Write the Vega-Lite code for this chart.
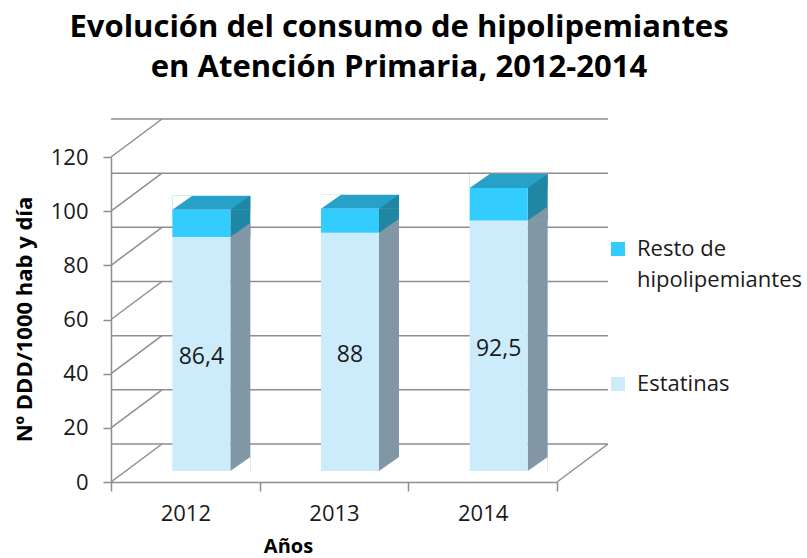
{
  "$schema": "https://vega.github.io/schema/vega-lite/v6.json",
  "width": 446,
  "height": 325,
  "autosize": {"type": "none"},
  "padding": {"left": 111, "top": 157, "right": 250, "bottom": 76},
  "background": "white",
  "config": {
    "view": {"stroke": null},
    "font": "Open Sans",
    "style": {"guide-label": {"lineHeight": 31}}
  },
  "title": {
    "text": ["Evolución del consumo de hipolipemiantes", "en Atención Primaria, 2012-2014"],
    "fontSize": 31,
    "fontWeight": "bold",
    "font": "Open Sans",
    "color": "#000000",
    "anchor": "middle",
    "frame": "group",
    "dx": 65,
    "dy": -30,
    "lineHeight": 40
  },
  "layer": [
    {
      "data": {"values": [{"g": 0}, {"g": 20}, {"g": 40}, {"g": 60}, {"g": 80}, {"g": 100}, {"g": 120}]},
      "mark": {"type": "rule", "color": "#8E8E8E", "strokeWidth": 1.5, "xOffset": 51, "x2Offset": 51, "yOffset": -38},
      "encoding": {
        "y": {
          "field": "g",
          "type": "quantitative",
          "scale": {"domain": [0, 120], "nice": false},
          "axis": {
            "values": [0, 20, 40, 60, 80, 100, 120],
            "title": "Nº DDD/1000 hab y día",
            "titleFontSize": 22,
            "titleFontWeight": "bold",
            "titleColor": "#000000",
            "titleX": -87,
            "titleY": 162,
            "titleBaseline": "middle",
            "labelFontSize": 22,
            "labelColor": "#1a1a1a",
            "labelPadding": 15,
            "tickSize": 8,
            "tickColor": "#8E8E8E",
            "tickWidth": 1.5,
            "domainColor": "#8E8E8E",
            "domainWidth": 1.5,
            "grid": false
          }
        }
      }
    },
    {
      "data": {"values": [{"g": 0}, {"g": 20}, {"g": 40}, {"g": 60}, {"g": 80}, {"g": 100}, {"g": 120}]},
      "mark": {"type": "rule", "color": "#8E8E8E", "strokeWidth": 1.5, "y2Offset": -38, "x2Offset": 51},
      "encoding": {
        "x": {"value": 0},
        "x2": {"value": 0},
        "y": {"field": "g", "type": "quantitative"},
        "y2": {"field": "g"}
      }
    },
    {
      "data": {"values": [{"g": 0}]},
      "mark": {"type": "rule", "color": "#8E8E8E", "strokeWidth": 1.5, "y2Offset": -38, "x2Offset": 51},
      "encoding": {
        "x": {"value": "width"},
        "x2": {"value": "width"},
        "y": {"field": "g", "type": "quantitative"},
        "y2": {"field": "g"}
      }
    },
    {
      "data": {
        "values": [
          {"anio": "2012", "serie": "Estatinas", "valor": 86.4},
          {"anio": "2012", "serie": "Resto de hipolipemiantes", "valor": 10.1},
          {"anio": "2013", "serie": "Estatinas", "valor": 88},
          {"anio": "2013", "serie": "Resto de hipolipemiantes", "valor": 8.8},
          {"anio": "2014", "serie": "Estatinas", "valor": 92.5},
          {"anio": "2014", "serie": "Resto de hipolipemiantes", "valor": 12.0}
        ]
      },
      "transform": [
        {"stack": "valor", "groupby": ["anio"], "sort": [{"field": "serie", "order": "ascending"}], "as": ["v0", "v1"]}
      ],
      "encoding": {
        "x": {
          "field": "anio",
          "type": "nominal",
          "scale": {"type": "band", "paddingInner": 0, "paddingOuter": 0},
          "axis": {
            "title": "Años",
            "titleFontSize": 20,
            "titleFontWeight": "bold",
            "titleColor": "#000000",
            "titleX": 177,
            "titleY": 70,
            "titleBaseline": "alphabetic",
            "labelFontSize": 22,
            "labelColor": "#1a1a1a",
            "labelAngle": 0,
            "labelPadding": 12,
            "tickBand": "extent",
            "tickSize": 9,
            "tickColor": "#8E8E8E",
            "tickWidth": 1.5,
            "domainColor": "#8E8E8E",
            "domainWidth": 1.5
          }
        }
      },
      "layer": [
        {
          "mark": {"type": "bar", "width": 20, "xOffset": 55, "yOffset": -11, "y2Offset": -11},
          "encoding": {
            "y": {"field": "v1", "type": "quantitative"},
            "y2": {"field": "v0"},
            "fill": {"condition": {"test": "datum.serie == 'Estatinas'", "value": "#8197A6"}, "value": "#1F86A3"}
          }
        },
        {
          "transform": [{"filter": "datum.serie != 'Estatinas'"}],
          "mark": {"type": "bar", "width": 78, "xOffset": 26, "yOffset": -25, "y2Offset": -11, "fill": "#28A1C8"},
          "encoding": {
            "y": {"field": "v1", "type": "quantitative"},
            "y2": {"field": "v1"}
          }
        },
        {
          "mark": {"type": "point", "shape": "M 1 -0.7 L 1 0.7 L -1 0.7 Z", "size": 400, "filled": true, "opacity": 1, "strokeWidth": 0, "xOffset": 55, "yOffset": -18},
          "encoding": {
            "y": {"field": "v1", "type": "quantitative"},
            "fill": {"condition": {"test": "datum.serie == 'Estatinas'", "value": "#8197A6"}, "value": "#1F86A3"}
          }
        },
        {
          "transform": [{"filter": "datum.serie == 'Estatinas'"}],
          "mark": {"type": "point", "shape": "M 1 -0.7 L 1 0.7 L -1 0.7 Z", "size": 400, "filled": true, "opacity": 1, "strokeWidth": 0, "fill": "white", "xOffset": 55, "yOffset": -18},
          "encoding": {
            "y": {"field": "v0", "type": "quantitative"}
          }
        },
        {
          "transform": [{"filter": "datum.serie != 'Estatinas'"}],
          "mark": {"type": "point", "shape": "M -1 -0.7 L 1 -0.7 L -1 0.7 Z", "size": 400, "filled": true, "opacity": 1, "strokeWidth": 0, "fill": "white", "xOffset": -3, "yOffset": -18},
          "encoding": {
            "y": {"field": "v1", "type": "quantitative"}
          }
        },
        {
          "mark": {"type": "bar", "width": 58, "xOffset": 16, "yOffset": -11, "y2Offset": -11},
          "encoding": {
            "y": {"field": "v1", "type": "quantitative"},
            "y2": {"field": "v0"},
            "color": {
              "field": "serie",
              "type": "nominal",
              "scale": {"domain": ["Resto de hipolipemiantes", "Estatinas"], "range": ["#33CCFF", "#CCECFC"]},
              "legend": {
                "title": null,
                "orient": "none",
                "legendX": 496,
                "legendY": 81,
                "padding": 0,
                "symbolType": "square",
                "symbolSize": 196,
                "symbolStrokeWidth": 0,
                "labelFontSize": 22,
                "labelColor": "#1a1a1a",
                "labelOffset": 8,
                "labelLimit": 300,
                "rowPadding": 82,
                "labelExpr": "datum.label == 'Resto de hipolipemiantes' ? ['Resto de', 'hipolipemiantes'] : datum.label"
              }
            }
          }
        },
        {
          "transform": [
            {"filter": "datum.serie == 'Estatinas'"},
            {"calculate": "datum.v1 / 2", "as": "mid"},
            {"calculate": "replace(toString(datum.valor), '.', ',')", "as": "etiqueta"}
          ],
          "mark": {"type": "text", "fontSize": 23, "color": "#1a1a1a", "xOffset": 16, "yOffset": -8},
          "encoding": {
            "y": {"field": "mid", "type": "quantitative"},
            "text": {"field": "etiqueta"}
          }
        }
      ]
    }
  ]
}
